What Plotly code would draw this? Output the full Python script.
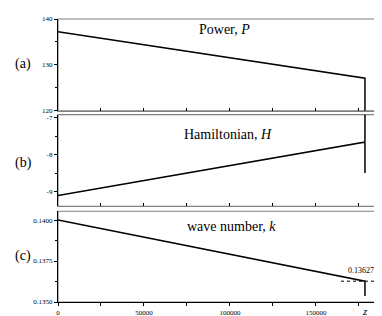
import plotly.graph_objects as go

# ---- data ----
z_P = [0, 178500, 178500]
P_vals = [137.2, 127.1, 100.0]

z_H = [0, 178500, 178500, 178500]
H_vals = [-9.11, -7.66, -5.0, -8.5]

z_k = [0, 178500, 178500]
k_vals = [0.1400, 0.13627, 0.13536]

k_mark = 0.13627
k_mark_label = "0.13627"

panel_titles = ["Power, <i>P</i>", "Hamiltonian, <i>H</i>", "wave number, <i>k</i>"]
panel_letters = ["(a)", "(b)", "(c)"]

P_ticks = [120, 130, 140]
H_ticks = [-9, -8, -7]
k_ticks = [0.1350, 0.1375, 0.1400]
k_ticktext = ["0.1350", "0.1375", "0.1400"]
z_ticks = [0, 50000, 100000, 150000]
z_ticktext = ["0", "50000", "100000", "150000"]

# ---- layout geometry ----
W, H = 382, 316
ml, mr, mt, mb = 50, 8, 7, 19
ph = H - mt - mb
def py(pix):
    return 1 - (pix - mt) / ph
def px(pix):
    return (pix - ml) / (W - ml - mr)

dom_a = [py(101), 1.0]
dom_b = [py(199), py(105)]
dom_c = [0.0, py(204)]

serif = "Liberation Serif, Times New Roman, serif"
tickfont = dict(family=serif, size=7, color="black")
gray = "#808080"

fig = go.Figure()
line = dict(color="black", width=1.5)
fig.add_trace(go.Scatter(x=z_P, y=P_vals, mode="lines", line=line, xaxis="x", yaxis="y"))
fig.add_trace(go.Scatter(x=z_H, y=H_vals, mode="lines", line=line, xaxis="x2", yaxis="y2"))
fig.add_trace(go.Scatter(x=z_k, y=k_vals, mode="lines", line=line, xaxis="x3", yaxis="y3"))

xr = [0, 188400]
def xax(anchor, labels, linecolor, ticks):
    return dict(range=xr, anchor=anchor, showgrid=False, zeroline=False,
                showline=True, linecolor=linecolor, linewidth=1.2,
                ticks=ticks, ticklen=3, tickcolor="black", tickwidth=1,
                tickvals=z_ticks, ticktext=z_ticktext, showticklabels=labels,
                tickfont=tickfont,
                minor=dict(dtick=25000, tick0=0, ticks=ticks, ticklen=3, tickcolor="black"))

def yax(anchor, dom, rng, tv, tt, mdt, t0):
    return dict(domain=dom, range=rng, anchor=anchor, showgrid=False, zeroline=False,
                showline=True, linecolor="black", linewidth=1.3,
                ticks="outside", ticklen=3, tickcolor="black",
                tickvals=tv, ticktext=tt, tickfont=tickfont,
                minor=dict(dtick=mdt, tick0=t0, ticks="outside", ticklen=2, tickcolor="black"))

fig.update_layout(
    width=W, height=H,
    margin=dict(l=ml, r=mr, t=mt, b=mb),
    paper_bgcolor="white", plot_bgcolor="white",
    showlegend=False,
    xaxis=xax("y", False, gray, "inside"),
    xaxis2=xax("y2", False, gray, "inside"),
    xaxis3=xax("y3", True, "black", "outside"),
    yaxis=yax("x", dom_a, [120, 140], P_ticks, [str(v) for v in P_ticks], 5, 120),
    yaxis2=yax("x2", dom_b, [-9.4, -6.92], H_ticks, [str(v) for v in H_ticks], 0.5, -9),
    yaxis3=yax("x3", dom_c, [0.1350, 0.14054], k_ticks, k_ticktext, 0.00125, 0.1350),
)

shapes = []
for d in (dom_a, dom_b, dom_c):
    shapes.append(dict(type="rect", xref="paper", yref="paper", x0=0, x1=1,
                       y0=d[0], y1=d[1], line=dict(color=gray, width=1.2),
                       fillcolor="rgba(0,0,0,0)", layer="below"))
shapes.append(dict(type="line", xref="paper", yref="y3", x0=px(333), x1=px(380),
                   y0=k_mark, y1=k_mark, line=dict(color="black", width=1, dash="dot")))
fig.update_layout(shapes=shapes)

anns = []
tfont = dict(family=serif, size=14, color="black")
for t, xp, yp in zip(panel_titles, [216, 220, 223], [18, 125, 220]):
    anns.append(dict(text=t, xref="paper", yref="paper", x=px(xp), y=py(yp),
                     showarrow=False, font=tfont, xanchor="center", yanchor="middle"))
for t, yp in zip(panel_letters, [53, 155, 250]):
    anns.append(dict(text=t, xref="paper", yref="paper", x=px(15), y=py(yp),
                     showarrow=False, font=tfont, xanchor="center", yanchor="middle"))
anns.append(dict(text=k_mark_label, xref="paper", yref="paper", x=px(353), y=py(265),
                 showarrow=False, font=dict(family=serif, size=8, color="black"),
                 xanchor="center", yanchor="middle"))
anns.append(dict(text="<i>z</i>", xref="x3", yref="paper", x=178500, y=py(306),
                 showarrow=False, font=dict(family=serif, size=11, color="black"),
                 xanchor="center", yanchor="middle"))
fig.update_layout(annotations=anns)

fig.write_html("out.html")
